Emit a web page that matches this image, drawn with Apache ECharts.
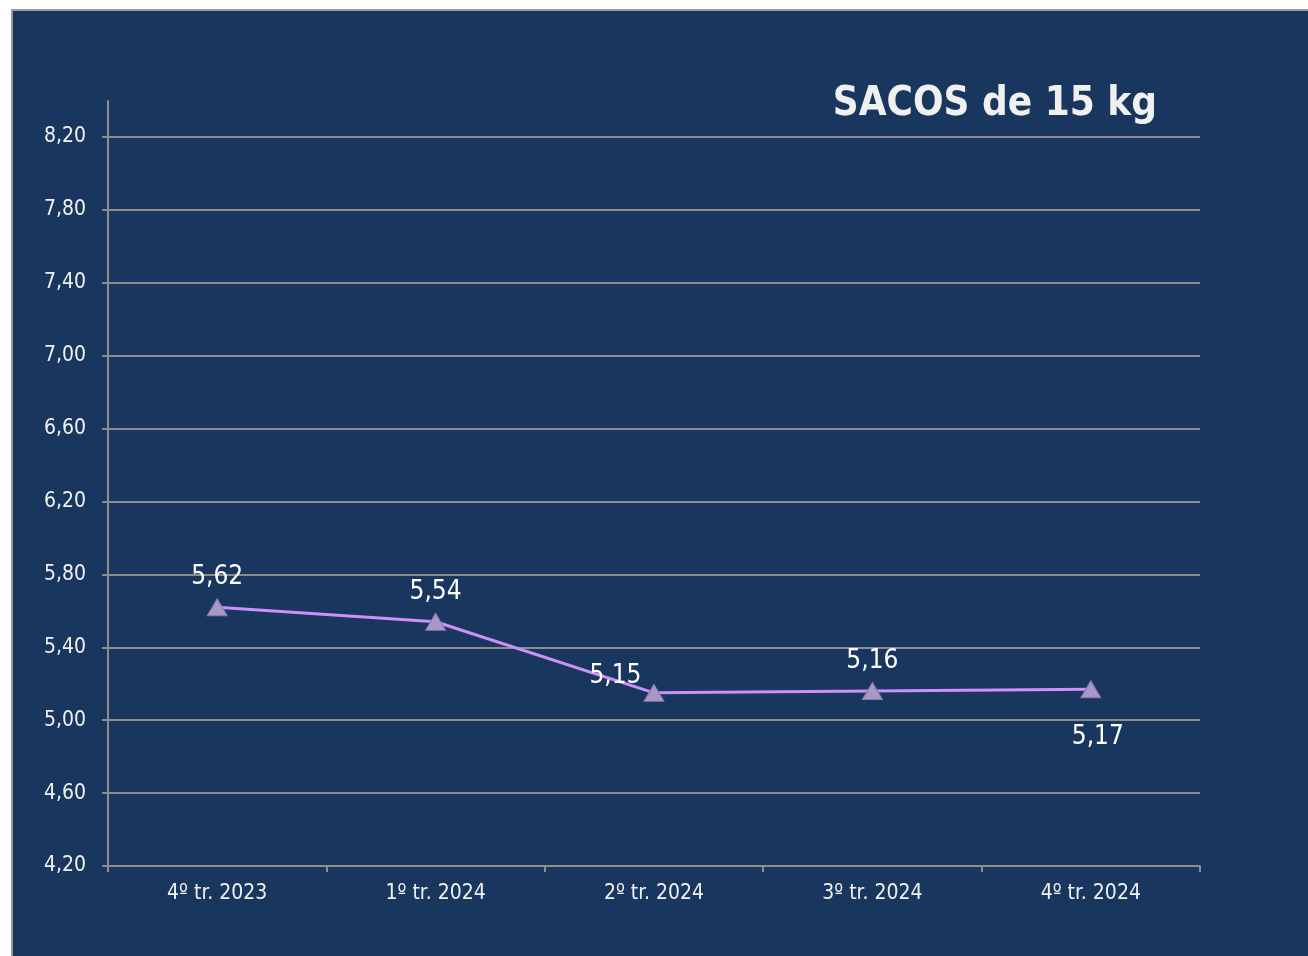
<!DOCTYPE html>
<html>
<head>
<meta charset="utf-8">
<script src="https://cdn.jsdelivr.net/npm/echarts@6/dist/echarts.min.js"></script>
<style>
html,body{margin:0;padding:0;background:#ffffff;width:1308px;height:956px;overflow:hidden;}
#panel{position:absolute;left:11px;top:9px;width:1310px;height:960px;background:#19375e;border-left:2px solid #9a9a9a;border-top:2px solid #9a9a9a;}
#chart{position:absolute;left:0;top:0;width:1308px;height:956px;}
</style>
</head>
<body>
<div id="panel"></div>
<div id="chart"></div>
<script>
const categories = ['4º tr. 2023', '1º tr. 2024', '2º tr. 2024', '3º tr. 2024', '4º tr. 2024'];
const values = [5.62, 5.54, 5.15, 5.16, 5.17];
const labelPositions = ['top', 'top', 'left', 'top', 'bottom'];
const yMin = 4.2, yMax = 8.2, yInterval = 0.4, yAxisTop = 8.4;
const title = 'SACOS de 15 kg';

const FONT = "'Liberation Sans Narrow', 'DejaVu Sans Condensed', 'Roboto', sans-serif";
const chart = echarts.init(document.getElementById('chart'), null, {renderer: 'canvas'});
const fmt = v => v.toFixed(2).replace('.', ',');

const data = values.map((v, i) => {
  const pos = labelPositions[i];
  const lbl = {position: pos};
  if (pos === 'left') { lbl.offset = [2, -17]; lbl.distance = 4; }
  if (pos === 'bottom') { lbl.offset = [7, 21]; }
  if (pos === 'top') { lbl.distance = 8; }
  return {value: v, label: lbl};
});

chart.setOption({
  backgroundColor: 'transparent',
  animation: false,
  title: {
    text: title, right: 151, top: 85, padding: 0,
    textStyle: {color: '#f0f0f0', fontFamily: FONT, fontWeight: 'bold', fontSize: 40}
  },
  grid: [
    {left: 108, right: 108, top: 137, bottom: 90},
    {left: 108, right: 108, top: 101, bottom: 90}
  ],
  xAxis: [
    {
      type: 'category', data: categories, gridIndex: 0, boundaryGap: true,
      axisLine: {lineStyle: {color: '#8c8c8c', width: 2}},
      axisTick: {show: true, length: 6, alignWithLabel: false, lineStyle: {color: '#8c8c8c', width: 2}},
      axisLabel: {color: '#f0f0f0', fontFamily: FONT, fontSize: 21, margin: 17}
    },
    {type: 'category', data: categories, gridIndex: 1, show: false}
  ],
  yAxis: [
    {
      type: 'value', gridIndex: 0, min: yMin, max: yMax, interval: yInterval,
      axisLine: {show: true, lineStyle: {color: '#8c8c8c', width: 2}},
      axisTick: {show: true, length: 6, lineStyle: {color: '#8c8c8c', width: 2}},
      splitLine: {show: true, lineStyle: {color: '#8c8c8c', width: 2}},
      axisLabel: {color: '#f0f0f0', fontFamily: FONT, fontSize: 21, margin: 22, formatter: v => fmt(v)}
    },
    {
      type: 'value', gridIndex: 1, min: yMin, max: yAxisTop,
      axisLine: {show: true, lineStyle: {color: '#8c8c8c', width: 2}},
      axisTick: {show: false}, axisLabel: {show: false}, splitLine: {show: false}
    }
  ],
  series: [{
    type: 'line', xAxisIndex: 0, yAxisIndex: 0, data: data,
    lineStyle: {color: '#cc90fa', width: 3},
    symbol: 'triangle', symbolSize: [20, 17],
    itemStyle: {color: '#a898c8', borderColor: '#8a7aa8', borderWidth: 1},
    label: {show: true, color: '#ffffff', fontFamily: FONT, fontSize: 26, formatter: p => fmt(p.value)},
    z: 3
  }]
});
</script>
</body>
</html>
